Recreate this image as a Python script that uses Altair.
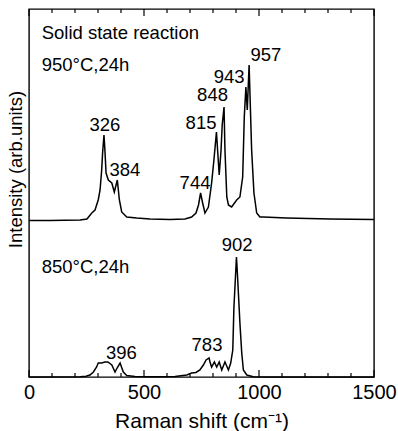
import altair as alt
import pandas as pd

# Upper spectrum: 950°C, 24h (offset baseline ~157 arb. units)
upper_x = [0, 91, 222, 252, 273, 287, 294, 301, 309, 316, 320, 326, 330, 335, 345, 360, 371, 384,
           393, 403, 425, 468, 526, 613, 678, 707, 726, 737, 746, 755, 765, 780, 794, 804, 815,
           820, 827, 835, 840, 848, 852, 860, 867, 881, 903, 917, 929, 936, 943, 949, 957, 968,
           978, 990, 1004, 1019, 1120, 1309, 1500]
upper_y = [156.5, 156.5, 157, 158, 164, 167, 172, 177, 187, 207, 224, 242, 227, 204, 197, 194, 185, 197,
           177, 165, 160, 159, 158, 157.5, 158, 160, 164, 172, 184, 174, 164, 170, 194, 217, 245,
           227, 202, 227, 252, 270, 227, 180, 172, 170, 177, 180, 200, 260, 290, 267, 312, 227,
           184, 164, 160, 160, 159, 158, 157.5]

# Lower spectrum: 850°C, 24h
lower_x = [0, 222, 248, 265, 280, 294, 301, 316, 330, 343, 360, 374, 383, 396, 410, 425, 461, 526,
           635, 686, 707, 726, 743, 758, 770, 783, 787, 794, 806, 816, 827, 838, 852, 867, 877,
           886, 891, 902, 906, 917, 925, 932, 947, 975, 1048, 1500]
lower_y = [0, 0.3, 0.7, 2, 5, 10, 14, 14, 15, 15, 12, 5, 9, 14, 5, 1.5, 0.5, 0.3,
           0.5, 2, 4, 4.5, 7, 12, 17, 19, 15, 10, 15, 10, 15, 7, 15, 7, 14,
           27, 70, 120, 104, 54, 24, 7, 2, 0.3, 0, 0]

peak_labels = ["326", "384", "744", "815", "848", "943", "957", "902", "783", "396"]
peak_label_x = [330, 417, 722, 748, 798, 870, 1030, 905, 774, 402]
peak_label_y = [252, 207, 194, 254, 282, 300, 322, 132, 32, 24]

note_texts = ["Solid state reaction", "950°C,24h", "850°C,24h"]
note_x = [55, 55, 55]
note_y = [344, 312, 110]

major_ticks = [0, 500, 1000, 1500]
minor_ticks = [100, 200, 300, 400, 600, 700, 800, 900, 1100, 1200, 1300, 1400]

W, H = 345, 368
FONT = "Liberation Sans"

xscale = alt.Scale(domain=[0, 1500], nice=False)
yscale = alt.Scale(domain=[0, 368], nice=False)

up = pd.DataFrame({"x": upper_x, "y": upper_y})
lo = pd.DataFrame({"x": lower_x, "y": lower_y})

xaxis = alt.Axis(values=major_ticks, format="d", ticks=False, domain=False, grid=False,
                 labelFontSize=20, labelFont=FONT, labelColor="black", labelPadding=5,
                 title="Raman shift (cm⁻¹)", titleFontSize=21, titleFont=FONT,
                 titleFontWeight="normal", titleColor="black", titlePadding=8,
                 labelFlush=False)
yaxis = alt.Axis(labels=False, ticks=False, domain=False, grid=False,
                 title="Intensity (arb.units)", titleFontSize=18.5, titleFont=FONT,
                 titleFontWeight="normal", titleColor="black", titlePadding=4, titleY=160)

line_up = alt.Chart(up).mark_line(color="black", strokeWidth=1.5).encode(
    x=alt.X("x:Q", scale=xscale, axis=xaxis),
    y=alt.Y("y:Q", scale=yscale, axis=yaxis),
    order="x:Q",
)
line_lo = alt.Chart(lo).mark_line(color="black", strokeWidth=1.5).encode(
    x=alt.X("x:Q", scale=xscale),
    y=alt.Y("y:Q", scale=yscale),
    order="x:Q",
)

lab = pd.DataFrame({"t": peak_labels, "x": peak_label_x, "y": peak_label_y})
labels = alt.Chart(lab).mark_text(fontSize=18.5, font=FONT, color="black",
                                  align="center", baseline="middle").encode(
    x=alt.X("x:Q", scale=xscale), y=alt.Y("y:Q", scale=yscale), text="t:N")

notes = pd.DataFrame({"t": note_texts, "x": note_x, "y": note_y})
note_marks = alt.Chart(notes).mark_text(fontSize=18.5, font=FONT, color="black",
                                        align="left", baseline="middle").encode(
    x=alt.X("x:Q", scale=xscale), y=alt.Y("y:Q", scale=yscale), text="t:N")

maj = pd.DataFrame({"x": major_ticks})
mnr = pd.DataFrame({"x": minor_ticks})

def tick_layer(df, length):
    b = alt.Chart(df).mark_rule(color="black", strokeWidth=1.2).encode(
        x=alt.X("x:Q", scale=xscale), y=alt.value(H), y2=alt.value(H - length))
    t = alt.Chart(df).mark_rule(color="black", strokeWidth=1.2).encode(
        x=alt.X("x:Q", scale=xscale), y=alt.value(0), y2=alt.value(length))
    return b + t

chart = alt.layer(
    line_up, line_lo, labels, note_marks,
    tick_layer(maj, 7), tick_layer(mnr, 4),
).properties(
    width=W, height=H,
    autosize=alt.AutoSizeParams(type="none"),
    padding={"left": 29, "top": 9, "right": 24, "bottom": 54},
    background="white",
).configure_view(stroke="black", strokeWidth=1.4)

chart.save("out.html", embed_options={"renderer": "svg", "actions": False})
